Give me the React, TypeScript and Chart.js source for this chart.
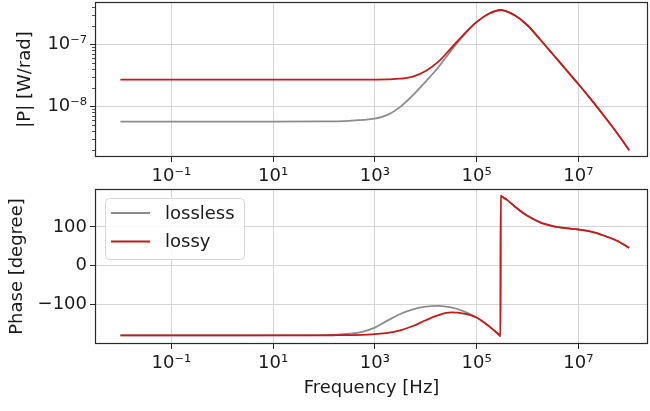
import React, { useEffect, useRef } from 'react';
import { Chart, registerables } from 'chart.js';

Chart.register(...registerables);

// ---------- data ----------
const MAG_FREQ = [1e-2, 1, 1e2, 316, 1e3, 1778, 3162, 5623, 1e4, 17783, 31623, 56234, 1e5, 177828, 316228, 562341, 1e6, 1778279, 3162278, 5623413, 1e7, 17782794, 31622777, 56234133, 1e8];
const MAG_LOSSLESS = [5.66e-9, 5.66e-9, 5.69e-9, 5.82e-9, 6.31e-9, 7.24e-9, 9.77e-9, 1.51e-8, 2.51e-8, 4.27e-8, 7.94e-8, 1.41e-7, 2.29e-7, 3.16e-7, 3.59e-7, 2.95e-7, 2.04e-7, 1.2e-7, 6.92e-8, 3.98e-8, 2.29e-8, 1.29e-8, 7.08e-9, 3.8e-9, 1.95e-9];
const MAG_LOSSY = [2.69e-8, 2.69e-8, 2.69e-8, 2.69e-8, 2.7e-8, 2.72e-8, 2.79e-8, 3.02e-8, 3.72e-8, 5.25e-8, 8.71e-8, 1.45e-7, 2.29e-7, 3.16e-7, 3.59e-7, 2.95e-7, 2.04e-7, 1.2e-7, 6.92e-8, 3.98e-8, 2.29e-8, 1.29e-8, 7.08e-9, 3.8e-9, 1.95e-9];

const PHASE_FREQ = [1e-2, 1, 100, 178, 316, 562, 1000, 1778, 3162, 5623, 1e4, 17783, 31623, 56234, 1e5, 177828, 229087, 275423, 295121, 298538, 331131, 398107, 562341, 1e6, 1778279, 3162278, 5623413, 1e7, 17782794, 31622777, 56234133, 1e8];
const PHASE_LOSSLESS = [-180, -180, -179.5, -178.5, -176, -171, -160, -142, -125, -113, -106, -104, -108, -118, -134, -157, -169, -178, -182, 181, 177, 170, 153, 129, 112, 102.5, 97, 93.5, 88, 78, 65, 46];
const PHASE_LOSSY = [-180, -180, -180, -179.8, -179.5, -179, -177, -174, -167, -156, -141, -128, -121, -124, -134, -157, -169, -178, -182, 181, 177, 170, 153, 129, 112, 102.5, 97, 93.5, 88, 78, 65, 46];

const X_TICKS = [1e-1, 1e1, 1e3, 1e5, 1e7];
const X_TICK_LABELS = ['10\u207B\u00B9', '10\u00B9', '10\u00B3', '10\u2075', '10\u2077'];
const MAG_TICKS = [1e-8, 1e-7];
const MAG_TICK_LABELS = ['10\u207B\u2078', '10\u207B\u2077'];
const PHASE_TICKS = [-100, 0, 100];
const PHASE_TICK_LABELS = ['\u2212100', '0', '100'];

const SERIES_NAMES = ['lossless', 'lossy'];
const COLORS = ['#8c8c8c', '#c81818'];

// ---------- styling ----------
const FONT = { family: "'DejaVu Sans', sans-serif", size: 18 };
const TEXT = '#1a1a1a';
const GRID = '#d4d4d4';
const FRAME = '#2a2a2a';

const pts = (xs: number[], ys: number[]) => xs.map((x, i) => ({ x, y: ys[i] }));

const noPad = (s: any) => {
  s.paddingTop = 0;
  s.paddingBottom = 0;
  s.paddingLeft = 0;
  s.paddingRight = 0;
};

const framePlugin = {
  id: 'frame',
  afterDraw(chart: any) {
    const { ctx, chartArea } = chart;
    const l = Math.round(chartArea.left) + 0.5;
    const t = Math.round(chartArea.top) + 0.5;
    const r = Math.round(chartArea.right) - 0.5;
    const b = Math.round(chartArea.bottom) - 0.5;
    ctx.save();
    ctx.strokeStyle = FRAME;
    ctx.lineWidth = 1.2;
    ctx.strokeRect(l, t, r - l, b - t);
    ctx.restore();
  },
};

const minorTickPlugin = {
  id: 'minorTicks',
  afterDraw(chart: any) {
    const y = chart.scales.y;
    if (y.type !== 'logarithmic') return;
    const { ctx, chartArea } = chart;
    ctx.save();
    ctx.strokeStyle = FRAME;
    ctx.lineWidth = 0.8;
    for (let e = -10; e <= -5; e++) {
      for (let k = 2; k <= 9; k++) {
        const v = k * Math.pow(10, e);
        if (v < y.min || v > y.max) continue;
        const py = Math.round(y.getPixelForValue(v)) + 0.5;
        ctx.beginPath();
        ctx.moveTo(chartArea.left, py);
        ctx.lineTo(chartArea.left - 3, py);
        ctx.stroke();
      }
    }
    ctx.restore();
  },
};

const legendPlugin = {
  id: 'customLegend',
  afterDraw(chart: any) {
    const { ctx } = chart;
    ctx.save();
    const x0 = 105.5, y0 = 10.5, w = 139, h = 61, rad = 4;
    ctx.beginPath();
    ctx.moveTo(x0 + rad, y0);
    ctx.arcTo(x0 + w, y0, x0 + w, y0 + h, rad);
    ctx.arcTo(x0 + w, y0 + h, x0, y0 + h, rad);
    ctx.arcTo(x0, y0 + h, x0, y0, rad);
    ctx.arcTo(x0, y0, x0 + w, y0, rad);
    ctx.closePath();
    ctx.fillStyle = 'rgba(255,255,255,0.85)';
    ctx.fill();
    ctx.strokeStyle = '#d6d6d6';
    ctx.lineWidth = 1;
    ctx.stroke();
    const rows = [25, 53.5];
    ctx.font = `18px 'DejaVu Sans', sans-serif`;
    ctx.textBaseline = 'middle';
    ctx.textAlign = 'left';
    SERIES_NAMES.forEach((name, i) => {
      ctx.strokeStyle = COLORS[i];
      ctx.lineWidth = 2;
      ctx.beginPath();
      ctx.moveTo(111, rows[i]);
      ctx.lineTo(150, rows[i]);
      ctx.stroke();
      ctx.fillStyle = TEXT;
      ctx.fillText(name, 165, rows[i] + 1);
    });
    ctx.restore();
  },
};

function xScale(showTitle: boolean, axisHeight: number) {
  return {
    type: 'logarithmic',
    min: Math.pow(10, -2.5),
    max: Math.pow(10, 8.37),
    afterBuildTicks: (s: any) => {
      s.ticks = X_TICKS.map((v) => ({ value: v }));
    },
    afterFit: (s: any) => {
      s.height = axisHeight;
      noPad(s);
    },
    ticks: {
      autoSkip: false,
      maxRotation: 0,
      padding: 4,
      color: TEXT,
      font: FONT,
      callback: (_v: any, i: number) => X_TICK_LABELS[i],
    },
    grid: { color: GRID, lineWidth: 1, tickColor: FRAME, tickLength: 5, tickWidth: 1 },
    border: { display: false },
    title: {
      display: showTitle,
      text: 'Frequency [Hz]',
      color: TEXT,
      font: FONT,
      padding: { top: 0, bottom: 12 },
    },
  };
}

function lineDataset(label: string, data: any[], color: string, order: number, smooth: boolean) {
  return {
    label,
    data,
    borderColor: color,
    backgroundColor: color,
    borderWidth: 1.8,
    pointRadius: 0,
    tension: smooth ? 0.35 : 0,
    cubicInterpolationMode: smooth ? 'default' : 'monotone',
    order,
  };
}

export default function App() {
  const topRef = useRef<HTMLCanvasElement>(null);
  const botRef = useRef<HTMLCanvasElement>(null);

  useEffect(() => {
    const top = new Chart(topRef.current as HTMLCanvasElement, {
      type: 'line',
      data: {
        datasets: [
          lineDataset(SERIES_NAMES[0], pts(MAG_FREQ, MAG_LOSSLESS), COLORS[0], 1, true),
          lineDataset(SERIES_NAMES[1], pts(MAG_FREQ, MAG_LOSSY), COLORS[1], 0, true),
        ] as any,
      },
      options: {
        animation: false,
        responsive: false,
        devicePixelRatio: 1,
        parsing: false,
        layout: { padding: { left: 0, right: 2, top: 2, bottom: 0 } },
        plugins: { legend: { display: false }, tooltip: { enabled: false } },
        scales: {
          x: xScale(false, 31) as any,
          y: {
            type: 'logarithmic',
            min: Math.pow(10, -8.82),
            max: Math.pow(10, -6.315),
            afterBuildTicks: (s: any) => {
              s.ticks = MAG_TICKS.map((v) => ({ value: v }));
            },
            afterFit: (s: any) => {
              s.width = 95;
              noPad(s);
            },
            ticks: {
              autoSkip: false,
              padding: 3,
              color: TEXT,
              font: FONT,
              callback: (_v: any, i: number) => MAG_TICK_LABELS[i],
            },
            grid: { color: GRID, lineWidth: 1, tickColor: FRAME, tickLength: 5, tickWidth: 1 },
            border: { display: false },
            title: { display: true, text: '|P| [W/rad]', color: TEXT, font: FONT, padding: { top: 15, bottom: 0 } },
          } as any,
        },
      },
      plugins: [framePlugin, minorTickPlugin],
    });

    const bot = new Chart(botRef.current as HTMLCanvasElement, {
      type: 'line',
      data: {
        datasets: [
          lineDataset(SERIES_NAMES[0], pts(PHASE_FREQ, PHASE_LOSSLESS), COLORS[0], 1, false),
          lineDataset(SERIES_NAMES[1], pts(PHASE_FREQ, PHASE_LOSSY), COLORS[1], 0, false),
        ] as any,
      },
      options: {
        animation: false,
        responsive: false,
        devicePixelRatio: 1,
        parsing: false,
        layout: { padding: { left: 0, right: 2, top: 1, bottom: 0 } },
        plugins: { legend: { display: false }, tooltip: { enabled: false } },
        scales: {
          x: xScale(true, 67) as any,
          y: {
            type: 'linear',
            min: -202.5,
            max: 198.2,
            afterBuildTicks: (s: any) => {
              s.ticks = PHASE_TICKS.map((v) => ({ value: v }));
            },
            afterFit: (s: any) => {
              s.width = 95;
              noPad(s);
            },
            ticks: {
              autoSkip: false,
              padding: 3,
              color: TEXT,
              font: FONT,
              callback: (_v: any, i: number) => PHASE_TICK_LABELS[i],
            },
            grid: { color: GRID, lineWidth: 1, tickColor: FRAME, tickLength: 5, tickWidth: 1 },
            border: { display: false },
            title: { display: true, text: 'Phase [degree]', color: TEXT, font: FONT, padding: { top: 7, bottom: 0 } },
          } as any,
        },
      },
      plugins: [framePlugin, legendPlugin],
    });

    return () => {
      top.destroy();
      bot.destroy();
    };
  }, []);

  return (
    <div style={{ position: 'fixed', left: 0, top: 0, width: 650, height: 411, background: '#fff' }}>
      <canvas ref={topRef} width={650} height={188} style={{ position: 'absolute', left: 0, top: 0, width: 650, height: 188 }} />
      <canvas ref={botRef} width={650} height={223} style={{ position: 'absolute', left: 0, top: 188, width: 650, height: 223 }} />
    </div>
  );
}
